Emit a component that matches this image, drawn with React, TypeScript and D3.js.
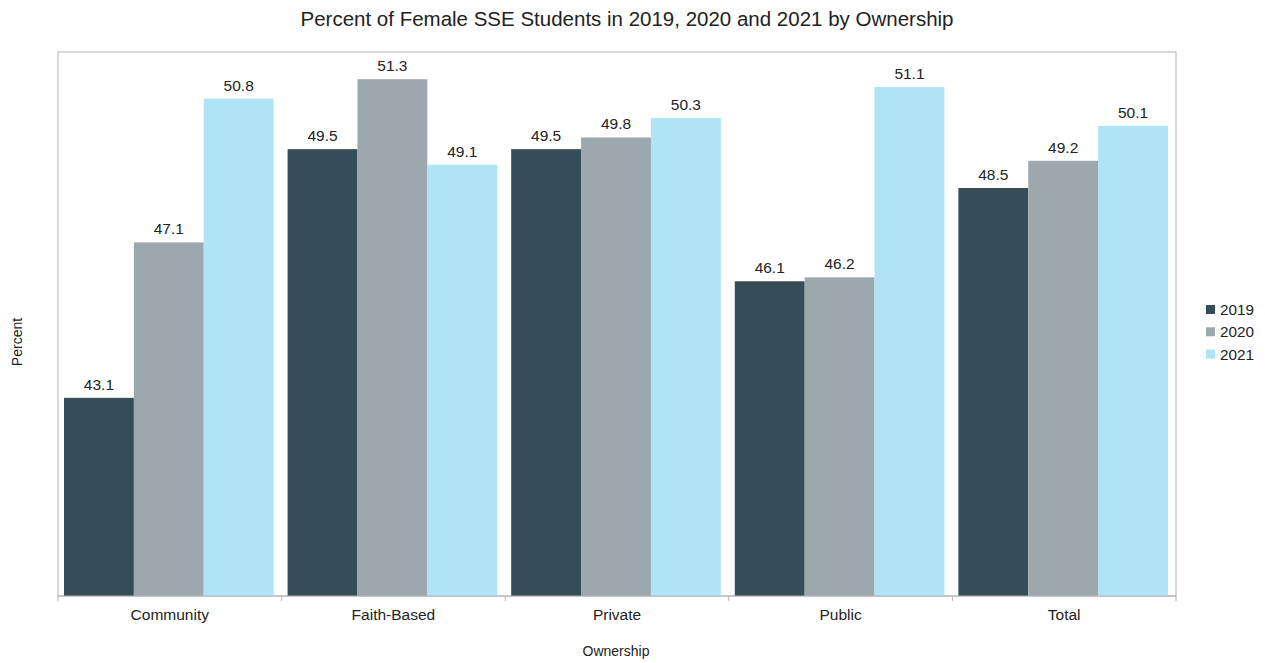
import React from "react";
import * as d3 from "d3";

const categories = ["Community", "Faith-Based", "Private", "Public", "Total"];
const years = ["2019", "2020", "2021"];
const values2019 = [43.1, 49.5, 49.5, 46.1, 48.5];
const values2020 = [47.1, 51.3, 49.8, 46.2, 49.2];
const values2021 = [50.8, 49.1, 50.3, 51.1, 50.1];
const colors = ["#364d57", "#9ca8ad", "#afe4f6"];

export default function App() {
  const W = 1265, H = 663;
  const left = 58, right = 1176, top = 52, bottom = 596;
  const series = [values2019, values2020, values2021];
  const x = d3.scaleBand().domain(categories).range([left, right]).paddingInner(0).paddingOuter(0);
  const inner = d3.scaleBand().domain(years).range([0, x.bandwidth()]).paddingOuter(0.1).paddingInner(0);
  const y = d3.scaleLinear().domain([38, 52]).range([bottom, top]);
  const font = "Liberation Sans, Arial, sans-serif";
  return (
    <svg width={W} height={H} style={{ position: "absolute", left: 0, top: 0 }} fontFamily={font}>
      <rect x={0} y={0} width={W} height={H} fill="#fff" />
      <text x={627} y={26} textAnchor="middle" fontSize={20.5} fill="#222">
        Percent of Female SSE Students in 2019, 2020 and 2021 by Ownership
      </text>
      <rect x={left} y={top} width={right - left} height={bottom - top} fill="none" stroke="#b3b3b3" strokeWidth={1} />
      {categories.map((c, i) => (
        <g key={c}>
          {series.map((s, j) => {
            const bx = (x(c) as number) + (inner(years[j]) as number) - 1;
            const bw = inner.bandwidth();
            return (
              <g key={j}>
                <rect x={bx} y={y(s[i])} width={bw} height={bottom - y(s[i])} fill={colors[j]} />
                <text x={bx + bw / 2} y={y(s[i]) - 8} textAnchor="middle" fontSize={15.5} fill="#222">
                  {s[i].toFixed(1)}
                </text>
              </g>
            );
          })}
          <text x={(x(c) as number) + x.bandwidth() / 2} y={620} textAnchor="middle" fontSize={15.5} fill="#222">
            {c}
          </text>
        </g>
      ))}
      <line x1={left} x2={right} y1={bottom} y2={bottom} stroke="#b3b3b3" />
      {[...categories.map((c) => x(c) as number), right].map((t, i) => (
        <line key={i} x1={t} x2={t} y1={bottom} y2={bottom + 5} stroke="#b3b3b3" />
      ))}
      <text x={616} y={656} textAnchor="middle" fontSize={14} fill="#222">Ownership</text>
      <text transform={`translate(22,${342}) rotate(-90)`} textAnchor="middle" fontSize={14} fill="#222">Percent</text>
      {years.map((yr, j) => (
        <g key={yr} transform={`translate(1206,${305 + j * 22.3})`}>
          <rect x={0} y={0} width={9} height={9} fill={colors[j]} />
          <text x={14} y={10} fontSize={15.3} fill="#222">{yr}</text>
        </g>
      ))}
    </svg>
  );
}
